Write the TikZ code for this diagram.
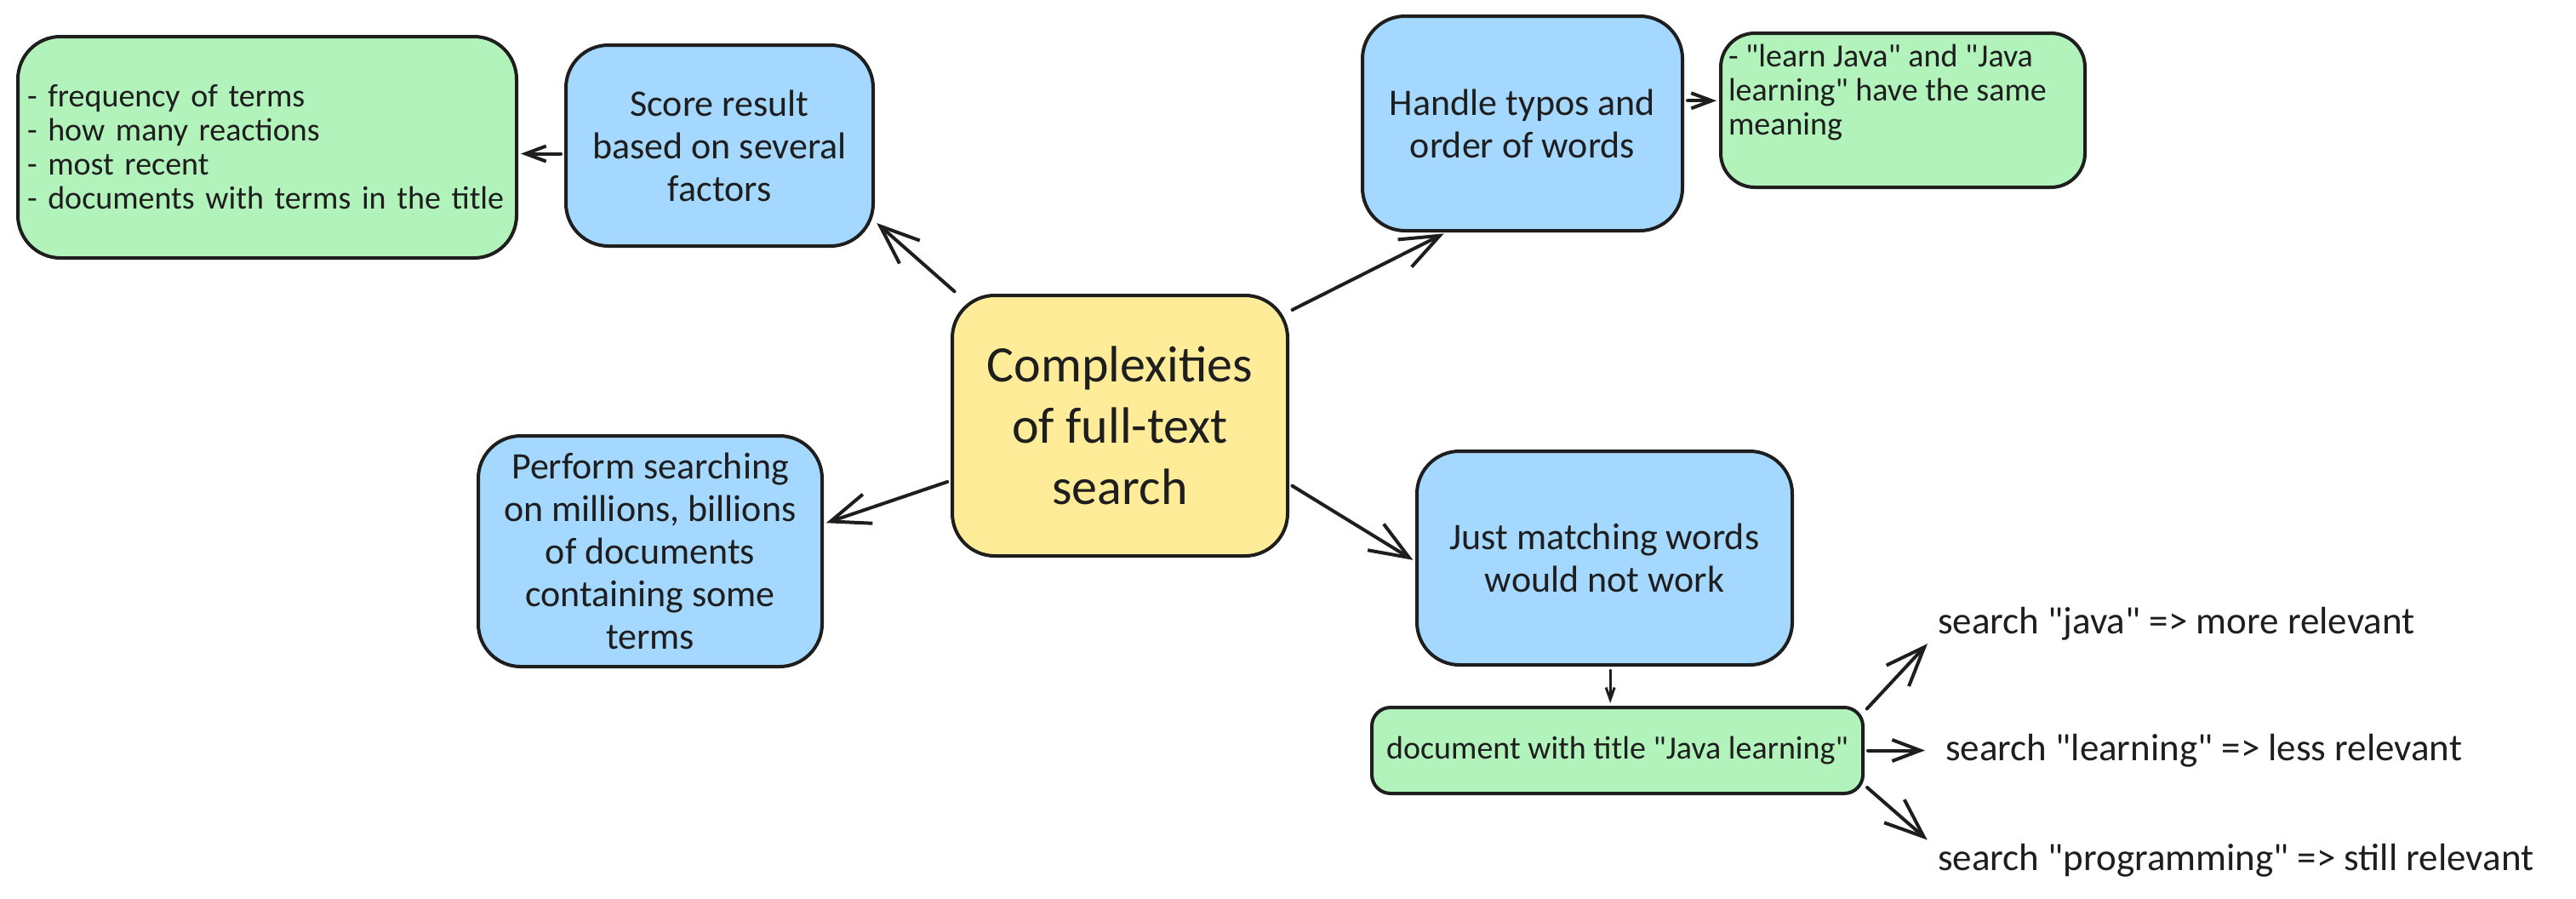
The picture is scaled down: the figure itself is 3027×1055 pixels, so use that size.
\documentclass[tikz,border=0pt]{standalone}
\usepackage{fontspec}
\setmainfont{Carlito}[Ligatures=TeXOff]
\usetikzlibrary{arrows.meta,calc}
\definecolor{ink}{HTML}{1E1E1E}
\definecolor{bluef}{HTML}{A5D8FF}
\definecolor{greenf}{HTML}{B2F2BB}
\definecolor{yellowf}{HTML}{FFEC99}
\begin{document}
\begin{tikzpicture}[x=1pt,y=-1pt,
  box/.style={draw=ink, line width=4pt, rounded corners=50pt, inner sep=0pt, align=center, text=ink},
  bluebox/.style={box, fill=bluef, font=\fontsize{44}{50}\selectfont},
  greenbox/.style={box, fill=greenf, font=\fontsize{38}{40}\selectfont},
  centerbox/.style={box, fill=yellowf, font=\fontsize{60}{72}\selectfont},
  plaintext/.style={text=ink, font=\fontsize{45}{50}\selectfont, inner xsep=10pt, inner ysep=2pt, anchor=base west},
  arrbase/.style={draw=ink, line width=4pt, line cap=round, line join=round, shorten <=4pt, shorten >=3pt},
  arrL/.style={arrbase, -{Straight Barb[length=46pt,width=36pt]}},
  arrM/.style={arrbase, -{Straight Barb[length=33pt,width=25pt]}},
  arrS/.style={arrbase, -{Straight Barb[length=24pt,width=18pt]}},
  arrT/.style={arrbase, line width=3pt, -{Straight Barb[length=14pt,width=10pt]}},
]
\useasboundingbox (0,0) rectangle (3027,1055);
\fill[white] (0,0) rectangle (3027,1055);

% nodes
\node[centerbox, minimum width=394pt, minimum height=306pt] (center) at (1316,500)
  {Complexities\\of full-text\\search};
\node[bluebox, minimum width=361pt, minimum height=236pt] (score) at (845.5,171)
  {Score result\\based on several\\factors};
\node[greenbox, align=left, text width=564pt, inner xsep=11pt, minimum height=260pt] (g1) at (314,173)
  {- frequency of terms\\- how many reactions\\- most recent\\- documents with terms in the title};
\node[bluebox, minimum width=376pt, minimum height=252pt] (handle) at (1789,145)
  {Handle typos and\\order of words};
\node[greenbox, rounded corners=40pt, inner xsep=9pt, inner ysep=13pt] (g2) at (2236,129.5)
  {\parbox[c][155pt][t]{410pt}{\raggedright - "learn Java" and "Java\\learning" have the same\\meaning}};
\node[bluebox, minimum width=404pt, minimum height=271pt] (perform) at (764,647.5)
  {Perform searching\\on millions, billions\\of documents\\containing some\\terms};
\node[bluebox, minimum width=441pt, minimum height=251pt] (just) at (1885.5,655.5)
  {Just matching words\\would not work};
\node[greenbox, rounded corners=22pt, minimum width=577pt, minimum height=101pt] (doc) at (1900.5,881.5)
  {document with title "Java learning"};
\node[plaintext] (t1) at (2267,744) {search "java" => more relevant};
\node[plaintext] (t2) at (2276,893) {search "learning" => less relevant};
\node[plaintext] (t3) at (2267,1022) {search "programming" => still relevant};

% connectors
\draw[arrL] (center.141) -- (score.-26.7);
\draw[arrS] (score.183) -- (score.183 -| g1.east);
\draw[arrL] (center.34.5) -- (handle.-125.8);
\draw[arrS] (handle.8.5) -- (handle.8.5 -| g2.west);
\draw[arrL] (center.198.9) -- (perform.9.7);
\draw[arrL] (center.-19.1) -- (just.181.1);
\draw[arrT] (just.-87) -- (just.-87 |- doc.north);
\draw[arrL] (doc.9.3) -- (t1.south west);
\draw[arrM, shorten >=14pt] (doc.east) -- (doc.east -| t2.west);
\draw[arrL] (doc.-8.2) -- (t3.north west);
\end{tikzpicture}
\end{document}
